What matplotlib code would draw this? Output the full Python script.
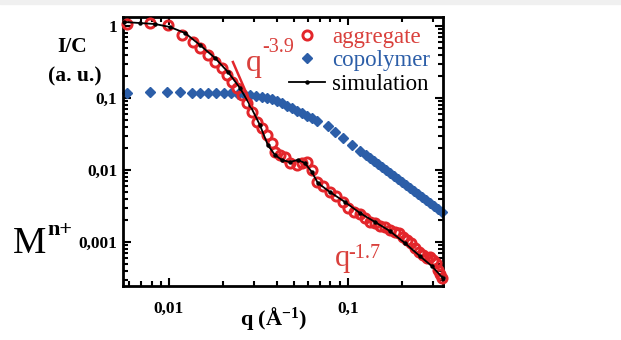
import numpy as np
import matplotlib
matplotlib.use('Agg')
import matplotlib.pyplot as plt
from matplotlib.ticker import LogLocator, NullFormatter
from matplotlib.patches import Rectangle

plt.rcParams['font.family'] = ['Liberation Serif', 'DejaVu Serif']
plt.rcParams['mathtext.fontset'] = 'custom'
plt.rcParams['mathtext.rm'] = 'Liberation Serif'
plt.rcParams['mathtext.bf'] = 'Liberation Serif:bold'
plt.rcParams['mathtext.it'] = 'Liberation Serif:italic'

# copolymer (blue diamonds)
q_cop = [0.00582, 0.00783, 0.00975, 0.01152, 0.01345, 0.01490, 0.01652, 0.01831,
         0.02029, 0.02218, 0.02429, 0.02624, 0.02835, 0.03062, 0.03308, 0.03528,
         0.03762, 0.04012, 0.04277, 0.0456, 0.0487, 0.0519, 0.0553, 0.0590,
         0.0629, 0.0671,
         0.0773, 0.0846, 0.0937, 0.1052, 0.1167,
         0.1261, 0.1327, 0.1397, 0.1471, 0.1549, 0.1630, 0.1717, 0.1807,
         0.1901, 0.2004, 0.2109, 0.2218, 0.2339, 0.2460, 0.2588, 0.2729,
         0.2871, 0.3020, 0.3184, 0.3350]
I_cop = [0.117, 0.121, 0.121, 0.121, 0.117, 0.117, 0.117, 0.117,
         0.116, 0.116, 0.114, 0.114, 0.110, 0.107, 0.103, 0.100,
         0.0956, 0.0910, 0.0852, 0.0774, 0.0727, 0.0662, 0.0621, 0.0562,
         0.0527, 0.0479,
         0.0402, 0.0339, 0.0280, 0.0225, 0.0186,
         0.0161, 0.0146, 0.0133, 0.0121, 0.01097, 0.00993, 0.00903, 0.00820,
         0.00745, 0.00677, 0.00615, 0.00558, 0.00508, 0.00461, 0.00419, 0.00381,
         0.00346, 0.00314, 0.00286, 0.00259]

# aggregate (red open circles)
q_agg = [0.00582, 0.00783, 0.00987, 0.01182, 0.01362, 0.01490, 0.01652, 0.01807,
         0.01977, 0.02109, 0.02249, 0.02399, 0.02558, 0.02729, 0.02911, 0.03105,
         0.03311, 0.03528, 0.03762, 0.03908, 0.04169, 0.04446, 0.04742, 0.05188,
         0.05534, 0.05902, 0.06295, 0.06714, 0.07250, 0.07932, 0.08570, 0.09370,
         0.1000, 0.1080, 0.1167, 0.1244, 0.1327, 0.1416, 0.1510, 0.1610,
         0.1717, 0.1831, 0.1928, 0.2028, 0.2136, 0.2249, 0.2366, 0.2492,
         0.2624, 0.2762, 0.2871, 0.2985, 0.3101, 0.3184, 0.3266, 0.3350]
I_agg = [1.066, 1.10, 1.03, 0.750, 0.600, 0.495, 0.396, 0.316,
         0.261, 0.209, 0.167, 0.138, 0.110, 0.0853, 0.0639, 0.0464,
         0.0383, 0.0306, 0.0237, 0.0178, 0.0162, 0.0152, 0.0125, 0.0117,
         0.0125, 0.0129, 0.0100, 0.00681, 0.00600, 0.00495, 0.00436, 0.00360,
         0.00297, 0.00261, 0.00245, 0.00216, 0.00190, 0.00184, 0.00167, 0.00162,
         0.00147, 0.00138, 0.00133, 0.00117, 0.00107, 0.000969, 0.000826, 0.000727,
         0.000659, 0.000600, 0.000619, 0.000562, 0.000511, 0.000408, 0.000359, 0.000316]

# simulation (black line)
q_sim = [0.00561, 0.00689, 0.00835, 0.01013, 0.01229, 0.01490, 0.01807, 0.02136,
         0.02493, 0.02835, 0.03222, 0.03573, 0.03908, 0.04277, 0.04742, 0.05257,
         0.05750, 0.06295, 0.06796, 0.07932, 0.09623, 0.1167, 0.1416, 0.1717,
         0.2081, 0.2523, 0.2944, 0.3396]
I_sim = [1.137, 1.10, 1.066, 0.969, 0.800, 0.545, 0.360, 0.230,
         0.138, 0.0800, 0.0422, 0.0222, 0.0162, 0.0138, 0.0129, 0.0138,
         0.0125, 0.00938, 0.00660, 0.00495, 0.00360, 0.00253, 0.00190, 0.00142,
         0.000969, 0.000640, 0.000464, 0.000316]

# power-law guide
q_slope = [0.02278, 0.02911]
I_slope = [0.316, 0.0774]

red = '#e3262b'
red_txt = '#d9403c'
blue = '#2c5ea8'

fig = plt.figure(figsize=(6.21, 3.40), dpi=100)
fig.patches.append(Rectangle((0, 0.988), 1, 0.012, transform=fig.transFigure,
                             color='#f0f0f0', zorder=0))
ax = fig.add_axes([0.198, 0.159, 0.515, 0.791])
ax.set_xscale('log')
ax.set_yscale('log')

ax.plot(q_cop, I_cop, 'D', color=blue, ms=5.4, mec=blue, clip_on=False,
        label='copolymer', zorder=2)
ax.plot(q_agg, I_agg, 'o', mfc='none', mec=red, ms=6.6, mew=2.1, clip_on=False,
        label='aggregate', zorder=3)
ax.plot(q_sim, I_sim, '-', color='black', lw=1.3, marker='o', ms=2.2,
        clip_on=False, label='simulation', zorder=4)
ax.plot(q_slope, I_slope, '-', color=red, lw=1.8, zorder=5)

ax.text(0.0268, 0.235, 'q', color=red_txt, fontsize=23, ha='left', va='baseline')
ax.text(0.0334, 0.44, '-3.9', color=red_txt, fontsize=14.5, ha='left', va='baseline')
ax.text(0.0850, 0.00046, 'q', color=red_txt, fontsize=22, ha='left', va='baseline')
ax.text(0.1010, 0.00060, '-1.7', color=red_txt, fontsize=14.5, ha='left', va='baseline')

ax.set_xlim(0.00553, 0.3396)
ax.set_ylim(2.45e-4, 1.334)

ax.set_xticks([0.01, 0.1])
ax.set_xticklabels(['0,01', '0,1'])
ax.set_yticks([0.001, 0.01, 0.1, 1])
ax.set_yticklabels(['0,001', '0,01', '0,1', '1'])
ax.xaxis.set_minor_locator(LogLocator(base=10, subs=np.arange(2, 10), numticks=20))
ax.yaxis.set_minor_locator(LogLocator(base=10, subs=np.arange(2, 10), numticks=20))
ax.xaxis.set_minor_formatter(NullFormatter())
ax.yaxis.set_minor_formatter(NullFormatter())

ax.tick_params(which='both', direction='in', top=True, right=True, width=1.5)
ax.tick_params(which='major', length=6)
ax.tick_params(which='minor', length=3.5)
ax.tick_params(axis='x', pad=11, labelsize=12.5)
ax.tick_params(axis='y', pad=4, labelsize=12.5)
for lab in ax.get_xticklabels() + ax.get_yticklabels():
    lab.set_fontweight('bold')
for s in ax.spines.values():
    s.set_linewidth(2)

handles, labels = ax.get_legend_handles_labels()
order = [1, 0, 2]
leg = ax.legend([handles[i] for i in order], [labels[i] for i in order],
                loc='upper right', bbox_to_anchor=(1.0, 1.011), frameon=False,
                fontsize=16.5, handlelength=1.6, handletextpad=0.3,
                labelspacing=0.12, borderaxespad=0.15, numpoints=1,
                labelcolor=[red_txt, blue, 'black'])

fig.text(72 / 621, 1 - 47 / 340, 'I/C', fontsize=15.5, fontweight='bold',
         ha='center', va='center')
fig.text(75 / 621, 1 - 76 / 340, '(a. u.)', fontsize=15.5, fontweight='bold',
         ha='center', va='center')
fig.text(274 / 621, 1 - 319 / 340, r'q (Å$^{\mathbf{-1}}$)', fontsize=16,
         fontweight='bold', ha='center', va='center')
fig.text(13 / 621, 1 - 253 / 340, 'M', fontsize=27, ha='left', va='baseline')
fig.text(47 / 621, 1 - 235 / 340, 'n+', fontsize=16, fontweight='bold',
         ha='left', va='baseline')

fig.savefig('out.png', dpi=100)
